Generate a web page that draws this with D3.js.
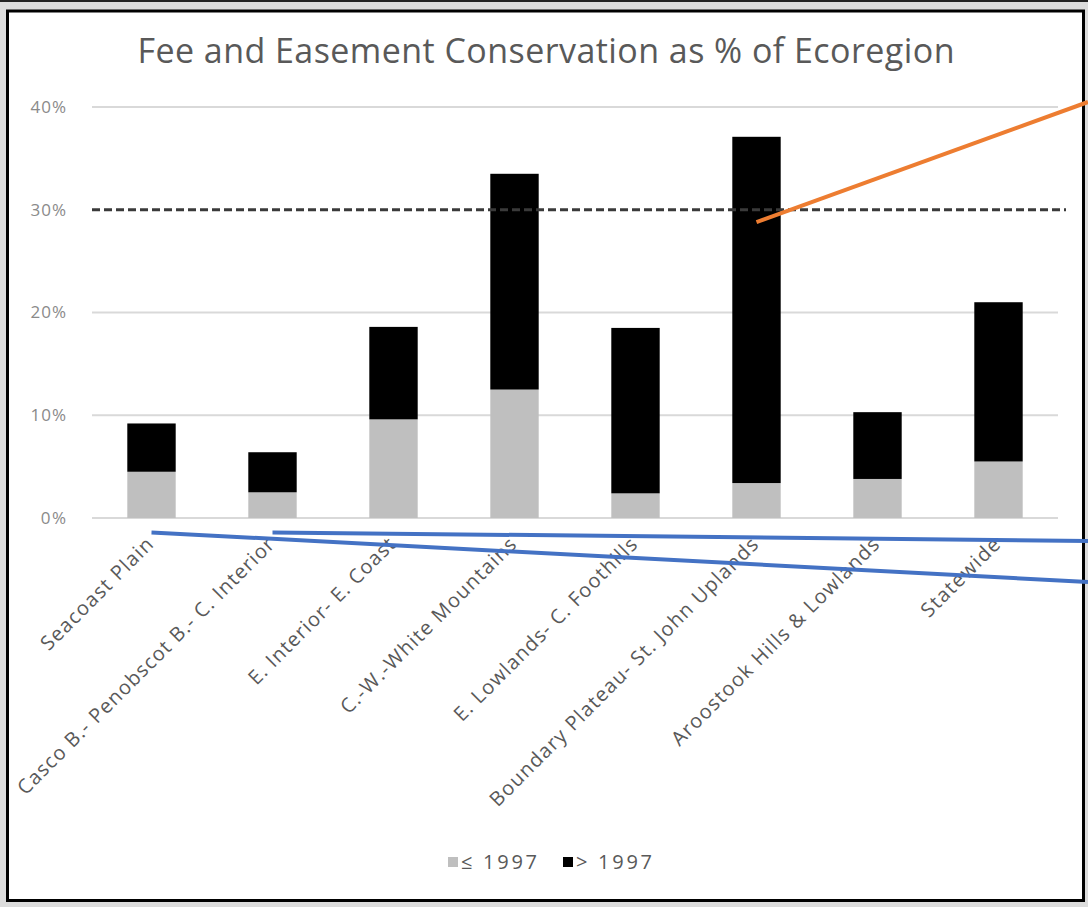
<!DOCTYPE html>
<html>
<head>
<meta charset="utf-8">
<script src="https://cdn.jsdelivr.net/npm/d3@7"></script>
<style>
  html, body { margin: 0; padding: 0; background: #dcdcdc; }
  svg { display: block; }
  text { font-family: "Open Sans", "Noto Sans", sans-serif; }
</style>
</head>
<body>
<svg id="chart" width="1088" height="907"></svg>
<script>
const categories = [
  "Seacoast Plain",
  "Casco B.- Penobscot B.- C. Interior",
  "E. Interior- E. Coast",
  "C.-W.-White Mountains",
  "E. Lowlands- C. Foothills",
  "Boundary Plateau- St. John Uplands",
  "Aroostook Hills & Lowlands",
  "Statewide"
];
const before1997 = [4.5, 2.5, 9.6, 12.5, 2.4, 3.4, 3.8, 5.5];
const after1997  = [4.7, 3.9, 9.0, 21.0, 16.1, 33.7, 6.5, 15.5];
const seriesNames = ["\u2264 1997", "> 1997"];
const yTicks = [0, 10, 20, 30, 40];
const targetLine = 30;
const title = "Fee and Easement Conservation as % of Ecoregion";

const svg = d3.select("#chart");
const W = 1088, H = 907;

// helper: stretch text to a wider, spaced look like the reference
function widen(sel, factor) {
  sel.each(function () {
    const L = this.getComputedTextLength();
    d3.select(this).attr("textLength", L * factor).attr("lengthAdjust", "spacing");
  });
}

// outer screenshot background + top rule
svg.append("rect").attr("x", 0).attr("y", 0).attr("width", W).attr("height", H).attr("fill", "#dcdcdc");
svg.append("line").attr("x1", 0).attr("x2", W).attr("y1", 1).attr("y2", 1).attr("stroke", "#222").attr("stroke-width", 2);
// chart frame
svg.append("rect").attr("x", 7.5).attr("y", 11).attr("width", 1076).attr("height", 889.5)
  .attr("fill", "#fff").attr("stroke", "#000").attr("stroke-width", 3);

const x = d3.scaleBand().domain(categories).range([91, 1059]).paddingInner(0.6).paddingOuter(0.3);
const y = d3.scaleLinear().domain([0, 40]).range([518, 107]);

// gridlines
svg.append("g").selectAll("line").data(yTicks.filter(t => t !== targetLine)).join("line")
  .attr("x1", 92).attr("x2", 1058)
  .attr("y1", d => y(d)).attr("y2", d => y(d))
  .attr("stroke", "#d9d9d9").attr("stroke-width", 2);

// y axis labels
const yAxis = d3.axisLeft(y).tickValues(yTicks).tickFormat(d => d + "%").tickSize(0).tickPadding(0);
const yg = svg.append("g").attr("transform", "translate(66,0)").call(yAxis);
yg.select(".domain").remove();
yg.selectAll("text").attr("fill", "#8a8a8a").style("font-size", "17px")
  .style("font-family", "'Open Sans', sans-serif").call(widen, 1.06);

// stacked bars
const rows = categories.map((c, i) => ({ cat: c, a: before1997[i], b: after1997[i] }));
const stack = d3.stack().keys(["a", "b"])(rows);
const colors = ["#bfbfbf", "#000000"];
svg.append("g").selectAll("g").data(stack).join("g")
  .attr("fill", (d, i) => colors[i])
  .selectAll("rect").data(d => d).join("rect")
  .attr("x", d => x(d.data.cat))
  .attr("width", x.bandwidth())
  .attr("y", d => y(d[1]))
  .attr("height", d => y(d[0]) - y(d[1]));

// dashed 30% line
svg.append("line")
  .attr("x1", 92).attr("x2", 1066)
  .attr("y1", y(targetLine)).attr("y2", y(targetLine))
  .attr("stroke", "#3a3a3a").attr("stroke-width", 3).attr("stroke-dasharray", "8,4");

// x labels
const xAxis = d3.axisBottom(x).tickSize(0).tickPadding(0);
const xg = svg.append("g").attr("transform", "translate(0,541)").call(xAxis);
xg.select(".domain").remove();
xg.selectAll("text")
  .attr("fill", "#595959")
  .style("font-size", "20px")
  .style("font-family", "'Open Sans', sans-serif")
  .attr("text-anchor", "end")
  .attr("dy", "0.35em")
  .attr("transform", "translate(-2,0) rotate(-45)")
  .attr("y", 0).attr("x", 0)
  .call(widen, 1.12);

// title
svg.append("text").attr("x", 546).attr("y", 63).attr("text-anchor", "middle")
  .attr("fill", "#595959").style("font-size", "34px").text(title)
  .attr("textLength", 817).attr("lengthAdjust", "spacing");

// legend
const legend = svg.append("g").attr("transform", "translate(448,862)");
const lx = [0, 115];
seriesNames.forEach((s, i) => {
  const g = legend.append("g").attr("transform", `translate(${lx[i]},0)`);
  g.append("rect").attr("x", 0).attr("y", -5).attr("width", 10).attr("height", 10).attr("fill", colors[i]);
  g.append("text").attr("x", 13).attr("y", 0).attr("dy", "0.35em").attr("fill", "#595959")
    .style("font-size", "20px").text(s)
    .attr("textLength", 76).attr("lengthAdjust", "spacing");
});

// annotation lines (pointing outside the chart)
const xc = c => x(c) + x.bandwidth() / 2;
const annotations = [
  { cat: categories[5], val: 28.8, endY: 102, color: "#ed7d31" },
  { cat: categories[0], val: -1.4, endY: 582, color: "#4472c4" },
  { cat: categories[1], val: -1.4, endY: 541, color: "#4472c4" }
];
svg.append("g").selectAll("line").data(annotations).join("line")
  .attr("x1", d => xc(d.cat)).attr("y1", d => y(d.val))
  .attr("x2", W).attr("y2", d => d.endY)
  .attr("stroke", d => d.color).attr("stroke-width", 4);
</script>
</body>
</html>
